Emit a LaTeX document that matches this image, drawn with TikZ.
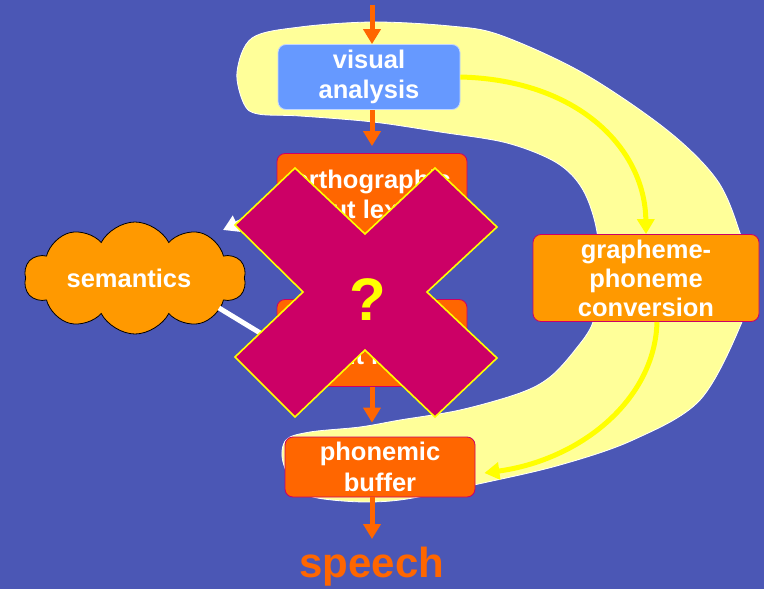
\documentclass[tikz,border=0pt]{standalone}
\usepackage{fontspec}
\setmainfont{Liberation Sans}
\usetikzlibrary{arrows.meta,shapes.symbols,calc}

\definecolor{slide}{RGB}{75,87,181}
\definecolor{band}{RGB}{255,255,153}
\definecolor{skyblue}{RGB}{102,153,255}
\definecolor{deeporange}{RGB}{255,102,0}
\definecolor{amber}{RGB}{255,153,0}
\definecolor{crimson}{RGB}{204,0,102}
\definecolor{brightyellow}{RGB}{255,255,0}

\begin{document}
\begin{tikzpicture}[x=1pt,y=-1pt,
  box/.style={rounded corners=8pt, draw=crimson, line width=0.8pt, fill=deeporange,
    text=white, font=\fontsize{25.5}{30.5}\selectfont\bfseries, align=center, inner sep=0pt},
  flow/.style={draw=deeporange, line width=5pt, -{Triangle[width=17pt,length=15pt]}},
  route/.style={draw=brightyellow, line width=5pt, -{Triangle[width=17pt,length=15pt]}},
  link/.style={draw=white, line width=5pt, -{Triangle[width=17pt,length=15pt]}},
]
% slide background
\fill[slide] (0,0) rectangle (764,589);
\useasboundingbox (0,0) rectangle (764,589);

% pale band of the sublexical route
\filldraw[fill=band, draw=white, line width=0.8pt]
  plot[smooth cycle, tension=0.55] coordinates {
    (237,72) (252,38) (300,27) (373,22) (450,26) (500,35) (583,73) (667,130)
    (717,180) (740,233) (751,280) (742,322) (700,400) (633,440) (560,465)
    (483,483) (400,500) (343,501) (300,492) (283,462) (286,440) (310,432)
    (360,427) (400,420) (460,410) (520,393) (550,377) (575,350) (593,322)
    (598,280) (597,232) (583,190) (557,163) (507,143) (440,132) (373,122)
    (300,116) (258,114) (244,104)};

% boxes
\node[box, fill=skyblue, draw=white!60!skyblue, minimum width=182pt, minimum height=65pt]
  (visual) at (369,77) {visual\\analysis};
\node[box, minimum width=190pt, minimum height=87pt]
  (ortho) at (372,197) {orthographic\\input lexicon};
\node[box, minimum width=190pt, minimum height=87pt]
  (phono) at (372,343) {phonological\\output lexicon};
\node[box, minimum width=190pt, minimum height=60pt]
  (buffer) at (380,467) {phonemic\\buffer};
\node[box, fill=amber, minimum width=226pt, minimum height=87pt,
  font=\fontsize{25.5}{29}\selectfont\bfseries]
  (gpc) at (646,278) {grapheme-\\phoneme\\conversion};
\node[cloud, cloud puffs=10, cloud puff arc=125, cloud ignores aspect,
  draw=black, line width=0.8pt, fill=amber, text=white,
  font=\fontsize{25.5}{30}\selectfont\bfseries,
  minimum width=222pt, minimum height=112pt, inner sep=0pt]
  (sem) at (135,278) {semantics\hspace*{12pt}};
\node[anchor=base, text=deeporange, font=\fontsize{42}{48}\selectfont\bfseries]
  (speech) at (372,577) {speech};
\coordinate (input) at (372,5);

% lexical route
\draw[flow] (input) -- (input |- visual.north);
\draw[flow] (ortho.north |- visual.south) -- ([yshift=7pt]ortho.north);
\draw[flow] (ortho) -- (phono);
\draw[flow] (phono.south) -- ([yshift=14pt]buffer.north -| phono.south);
\draw[flow] (buffer.south -| phono.south) -- ([yshift=4pt]speech.north);

% semantic links
\draw[link] ([yshift=-8pt]ortho.west) -- ([xshift=88pt,yshift=48pt]sem.center);
\draw[link] ([xshift=84pt,yshift=-30pt]sem.center) -- (phono.west);

% sublexical route
\draw[route] (visual.east) .. controls (580,80) and (645,150) .. (gpc.north);
\draw[route] ([xshift=11pt]gpc.south) .. controls (655,400) and (580,460) .. ([xshift=9pt,yshift=-6pt]buffer.east);

% cross over the lexical route
\filldraw[fill=crimson, draw=brightyellow, line width=1.6pt, line join=miter]
  (295,168) -- (365,234) -- (435,168) -- (497,227) -- (427,292) -- (497,358)
  -- (435,417) -- (365,350) -- (295,417) -- (235,357) -- (303,292) -- (235,225) -- cycle;
\node[text=brightyellow, font=\fontsize{60}{60}\selectfont\bfseries] (query) at (368,300) {?};
\end{tikzpicture}
\end{document}
